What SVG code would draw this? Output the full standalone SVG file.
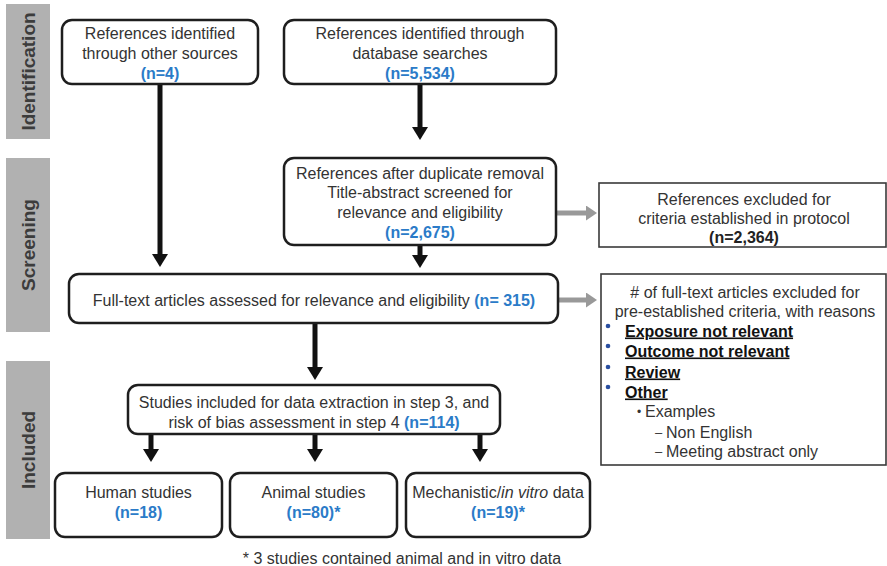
<svg xmlns="http://www.w3.org/2000/svg" width="887" height="566" viewBox="0 0 887 566">
<style>
.bg{fill:#ffffff}
.bar{fill:#b1b1b1}
.side{font-family:"Liberation Sans",Arial,sans-serif;font-size:19px;font-weight:bold;fill:#3c3c3c;text-anchor:middle}
.box{fill:#ffffff;stroke:#1e1e1e;stroke-width:2.5}
.rbox{fill:#ffffff;stroke:#3a3a3a;stroke-width:1.6}
.t{font-family:"Liberation Sans",Arial,sans-serif;font-size:16px;fill:#333333}
.c{text-anchor:middle}
.n{font-weight:bold;fill:#2b7bc8}
.k{font-weight:bold;fill:#222222}
.u{font-weight:bold;fill:#111111;text-decoration:underline}
.arr{stroke:#111111;stroke-width:5;fill:none}
.garr{stroke:#999999;stroke-width:5;fill:none}
.dot{fill:#2a4fa0}
</style>
<defs>
<marker id="ah" viewBox="0 0 13 16" refX="0" refY="8" markerWidth="13" markerHeight="16" markerUnits="userSpaceOnUse" orient="auto">
<path d="M0,0 L13,8 L0,16 Z" fill="#111111"/>
</marker>
<marker id="gh" viewBox="0 0 11 15" refX="0" refY="7.5" markerWidth="11" markerHeight="15" markerUnits="userSpaceOnUse" orient="auto">
<path d="M0,0 L11,7.5 L0,15 Z" fill="#999999"/>
</marker>
</defs>
<rect class="bg" x="0" y="0" width="887" height="566"/>

<g id="phases">
<rect class="bar" x="6" y="4" width="44" height="135"/>
<text class="side" transform="translate(34.5,71.5) rotate(-90)">Identification</text>
<rect class="bar" x="6" y="158" width="44" height="174"/>
<text class="side" transform="translate(34.5,245) rotate(-90)">Screening</text>
<rect class="bar" x="6" y="361" width="44" height="178"/>
<text class="side" transform="translate(34.5,450) rotate(-90)">Included</text>
</g>

<g id="connectors">
<line class="arr" x1="160" y1="84" x2="160" y2="254" marker-end="url(#ah)"/>
<line class="arr" x1="420" y1="84" x2="420" y2="127" marker-end="url(#ah)"/>
<line class="arr" x1="420" y1="245" x2="420" y2="255" marker-end="url(#ah)"/>
<line class="arr" x1="315" y1="323" x2="315" y2="367" marker-end="url(#ah)"/>
<line class="arr" x1="151" y1="434" x2="151" y2="449" marker-end="url(#ah)"/>
<line class="arr" x1="315" y1="434" x2="315" y2="449" marker-end="url(#ah)"/>
<line class="arr" x1="480" y1="434" x2="480" y2="449" marker-end="url(#ah)"/>
<line class="garr" x1="557" y1="213" x2="586" y2="213" marker-end="url(#gh)"/>
<line class="garr" x1="559" y1="300" x2="586" y2="300" marker-end="url(#gh)"/>
</g>

<g id="other-sources">
<rect class="box" x="62" y="20" width="196" height="64" rx="10"/>
<text class="t c" x="160" y="39">References identified</text>
<text class="t c" x="160" y="59">through other sources</text>
<text class="t c n" x="160" y="79">(n=4)</text>
</g>

<g id="database">
<rect class="box" x="284" y="20" width="272" height="64" rx="10"/>
<text class="t c" x="420" y="39">References identified through</text>
<text class="t c" x="420" y="59">database searches</text>
<text class="t c n" x="420" y="79">(n=5,534)</text>
</g>

<g id="dedup">
<rect class="box" x="284" y="158" width="272" height="87" rx="10"/>
<text class="t c" x="420" y="179">References after duplicate removal</text>
<text class="t c" x="420" y="198">Title-abstract screened for</text>
<text class="t c" x="420" y="218">relevance and eligibility</text>
<text class="t c n" x="420" y="238">(n=2,675)</text>
</g>

<g id="excluded-protocol">
<rect class="rbox" x="599" y="183" width="287" height="64"/>
<text class="t c" x="744" y="205">References excluded for</text>
<text class="t c" x="744" y="224">criteria established in protocol</text>
<text class="t c k" x="744" y="243">(n=2,364)</text>
</g>

<g id="fulltext">
<rect class="box" x="69" y="274" width="489" height="49" rx="10"/>
<text class="t c" x="314" y="305.5">Full-text articles assessed for relevance and eligibility <tspan class="n">(n= 315)</tspan></text>
</g>

<g id="excluded-fulltext">
<rect class="rbox" x="601" y="274" width="285" height="191"/>
<text class="t c" x="745" y="298"># of full-text articles excluded for</text>
<text class="t c" x="745" y="317">pre-established criteria, with reasons</text>
<circle class="dot" cx="608" cy="326" r="2.3"/>
<text class="t u" x="625" y="336.5">Exposure not relevant</text>
<circle class="dot" cx="608" cy="346" r="2.3"/>
<text class="t u" x="625" y="356.5">Outcome not relevant</text>
<circle class="dot" cx="608" cy="367" r="2.3"/>
<text class="t u" x="625" y="377.5">Review</text>
<circle class="dot" cx="608" cy="387" r="2.3"/>
<text class="t u" x="625" y="397.5">Other</text>
<text class="t" x="637" y="416" style="font-size:12px">•</text>
<text class="t" x="645" y="417">Examples</text>
<text class="t" x="655" y="437" style="font-size:13px">–</text>
<text class="t" x="666" y="437.5">Non English</text>
<text class="t" x="655" y="456" style="font-size:13px">–</text>
<text class="t" x="666" y="456.5">Meeting abstract only</text>
</g>

<g id="included">
<rect class="box" x="128" y="385" width="372" height="49" rx="10"/>
<text class="t c" x="314" y="407.5">Studies included for data extraction in step 3, and</text>
<text class="t c" x="314" y="427.5">risk of bias assessment in step 4 <tspan class="n">(n=114)</tspan></text>
</g>

<g id="human">
<rect class="box" x="55" y="473" width="167" height="64" rx="10"/>
<text class="t c" x="138.5" y="497.5">Human studies</text>
<text class="t c n" x="138.5" y="517.5">(n=18)</text>
</g>

<g id="animal">
<rect class="box" x="230" y="473" width="167" height="64" rx="10"/>
<text class="t c" x="313.5" y="497.5">Animal studies</text>
<text class="t c n" x="313.5" y="517.5">(n=80)*</text>
</g>

<g id="mechanistic">
<rect class="box" x="406" y="473" width="184" height="64" rx="10"/>
<text class="t c" x="498" y="497.5">Mechanistic/<tspan font-style="italic">in vitro</tspan> data</text>
<text class="t c n" x="498" y="517.5">(n=19)*</text>
</g>

<text class="t c" x="402" y="563.5">* 3 studies contained animal and in vitro data</text>
</svg>
